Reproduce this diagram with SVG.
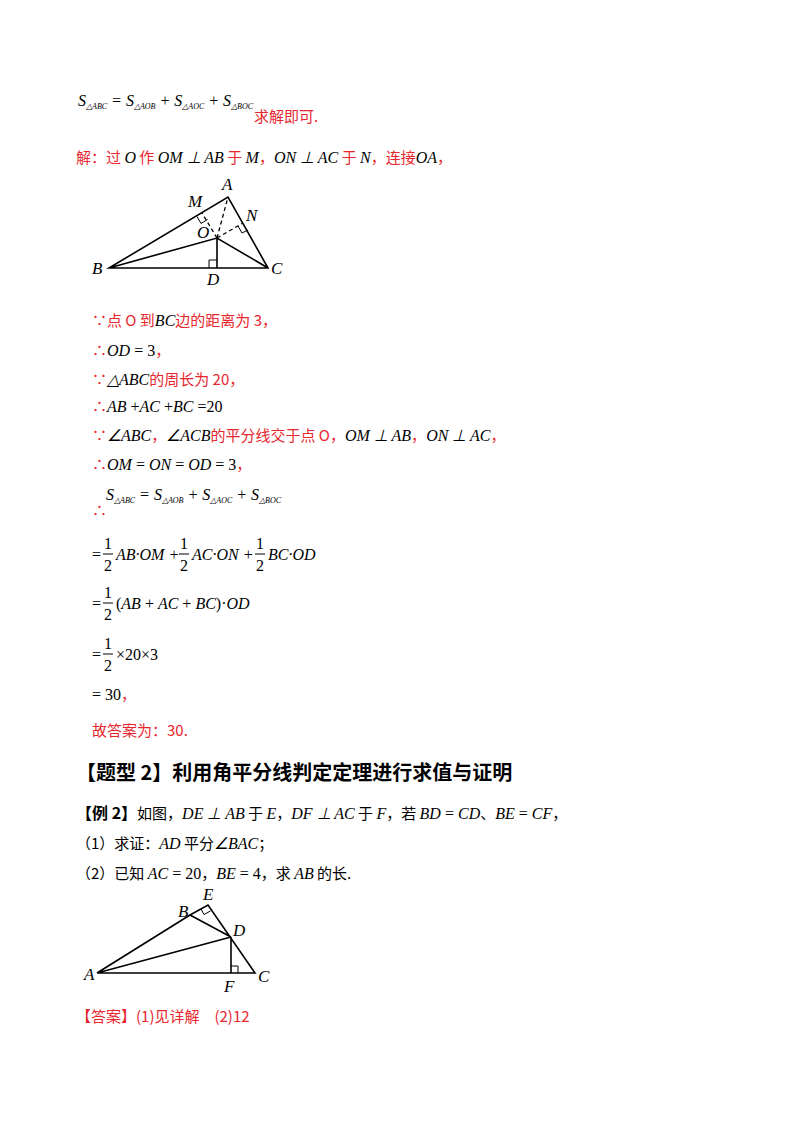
<svg xmlns="http://www.w3.org/2000/svg" width="800" height="1132" viewBox="0 0 800 1132">
<style>
.m{font-family:"Liberation Serif",serif;font-size:16px;font-style:italic;fill:#000}
.n{font-family:"Liberation Serif",serif;font-size:16px;fill:#000}
.s{font-family:"Liberation Serif",serif;font-size:8px;font-style:italic;fill:#000}
.r{font-family:"Noto Sans CJK SC","Noto Sans",sans-serif;font-size:15px;fill:#e8262e}
.k{font-family:"Noto Sans CJK SC",sans-serif;font-size:15px;fill:#000}
.h{font-family:"Noto Sans CJK SC",sans-serif;font-size:20px;font-weight:bold;fill:#000}
.lb{font-family:"Liberation Serif",serif;font-size:17px;font-style:italic;fill:#000}
.ln{stroke:#000;stroke-width:1.6;fill:none}
.th{stroke:#000;stroke-width:1;fill:none}
.ds{stroke:#000;stroke-width:1.3;fill:none;stroke-dasharray:4,3}
</style>
<rect width="800" height="1132" fill="#fff"/>
<g id="text">
<text x="78" y="106" class="m">S<tspan class="s" dy="3">△ABC</tspan><tspan class="n" dy="-3"> = </tspan>S<tspan class="s" dy="3">△AOB</tspan><tspan class="n" dy="-3"> + </tspan>S<tspan class="s" dy="3">△AOC</tspan><tspan class="n" dy="-3"> + </tspan>S<tspan class="s" dy="3">△BOC</tspan></text>
<text x="254" y="122" class="r">求解即可.</text>
<text x="76" y="163" class="r">解：过 <tspan class="m" fill="#e8262e">O</tspan> 作 <tspan class="m" font-size="12">OM ⊥ AB</tspan> 于 <tspan class="m" fill="#e8262e">M</tspan>，<tspan class="m">ON ⊥ AC</tspan> 于 <tspan class="m" fill="#e8262e">N</tspan>，连接<tspan class="m">OA</tspan>，</text>
<text x="92" y="326" class="r">∵点 O 到<tspan class="m">BC</tspan>边的距离为 3，</text>
<text x="92" y="356" class="r">∴<tspan class="m">OD</tspan><tspan class="n"> = 3</tspan>，</text>
<text x="92" y="385" class="r">∵<tspan class="m">△ABC</tspan>的周长为 20，</text>
<text x="92" y="412" class="r">∴<tspan class="m">AB</tspan><tspan class="n"> +</tspan><tspan class="m">AC</tspan><tspan class="n"> +</tspan><tspan class="m">BC</tspan><tspan class="n"> =20</tspan></text>
<text x="92" y="441" class="r">∵<tspan class="m">∠ABC</tspan>，<tspan class="m">∠ACB</tspan>的平分线交于点 O，<tspan class="m" font-size="12">OM ⊥ AB</tspan>，<tspan class="m">ON ⊥ AC</tspan>，</text>
<text x="92" y="470" class="r">∴<tspan class="m">OM</tspan><tspan class="n"> = </tspan><tspan class="m">ON</tspan><tspan class="n"> = </tspan><tspan class="m">OD</tspan><tspan class="n"> = 3</tspan>，</text>
<text x="106" y="500" class="m">S<tspan class="s" dy="3">△ABC</tspan><tspan class="n" dy="-3"> = </tspan>S<tspan class="s" dy="3">△AOB</tspan><tspan class="n" dy="-3"> + </tspan>S<tspan class="s" dy="3">△AOC</tspan><tspan class="n" dy="-3"> + </tspan>S<tspan class="s" dy="3">△BOC</tspan></text>
<text x="92" y="516" class="r">∴</text>
<text x="92" y="560" class="n">=</text><text x="104" y="549" class="n">1</text><text x="104" y="571" class="n">2</text>
<text x="116" y="560" class="m">AB·OM<tspan class="n"> + </tspan></text><text x="180" y="549" class="n">1</text><text x="180" y="571" class="n">2</text>
<text x="192" y="560" class="m">AC·ON<tspan class="n"> + </tspan></text><text x="256" y="549" class="n">1</text><text x="256" y="571" class="n">2</text>
<text x="268" y="560" class="m">BC·OD</text>
<text x="92" y="609" class="n">=</text><text x="104" y="598" class="n">1</text><text x="104" y="620" class="n">2</text>
<text x="116" y="609" class="n">(<tspan class="m">AB</tspan> + <tspan class="m">AC</tspan> + <tspan class="m">BC</tspan>)·<tspan class="m">OD</tspan></text>
<text x="92" y="660" class="n">=</text><text x="104" y="649" class="n">1</text><text x="104" y="671" class="n">2</text>
<text x="116" y="660" class="n">×20×3</text>
<text x="92" y="700" class="n">= 30<tspan class="r">，</tspan></text>
<text x="92" y="736" class="r">故答案为：30.</text>
<text x="76" y="780" class="h">【题型 2】利用角平分线判定定理进行求值与证明</text>
<text x="76" y="819" class="k"><tspan font-weight="bold" font-size="16">【例 2】</tspan>如图，<tspan class="m">DE ⊥ AB</tspan> 于 <tspan class="m">E</tspan>，<tspan class="m">DF ⊥ AC</tspan> 于 <tspan class="m">F</tspan>，若 <tspan class="m">BD</tspan><tspan class="n"> = </tspan><tspan class="m">CD</tspan>、<tspan class="m">BE</tspan><tspan class="n"> = </tspan><tspan class="m">CF</tspan>，</text>
<text x="76" y="849" class="k">（1）求证：<tspan class="m">AD</tspan> 平分<tspan class="m">∠BAC</tspan>；</text>
<text x="76" y="879" class="k">（2）已知 <tspan class="m">AC</tspan><tspan class="n"> = 20</tspan>，<tspan class="m">BE</tspan><tspan class="n"> = 4</tspan>，求 <tspan class="m">AB</tspan> 的长.</text>
<text x="76" y="1022" class="r">【答案】(1)见详解　(2)12</text>
</g>
<g id="fraclines" class="th">
<path d="M103 554H113M179 554H189M255 554H265M103 603H113M103 654H113"/>
</g>
<g id="figure1">
<path class="ln" d="M109 268L228 197L268 268Z M109 268L217 238L268 268 M217 238V268"/>
<path class="ds" d="M217 238L228 197 M217 238L202 213 M217 238L243 223"/>
<path class="th" d="M209 268V260H217 M197 216.5L201 223.5L207.5 219.5 M238 226L242 233L248 230"/>
<text x="222" y="190" class="lb">A</text>
<text x="188" y="207" class="lb">M</text>
<text x="246" y="221" class="lb">N</text>
<text x="197" y="238" class="lb">O</text>
<text x="92" y="274" class="lb">B</text>
<text x="271" y="274" class="lb">C</text>
<text x="207" y="285" class="lb">D</text>
</g>
<g id="figure2">
<path class="ln" d="M97 973L255 973L208 905L190 915 M97 973L190 915 M190 915L231 937 M97 973L231 937 M231 937V973"/>
<path class="th" d="M201 909L204 914.5L210.5 911 M231 966H238V973"/>
<text x="203" y="900" class="lb">E</text>
<text x="178" y="917" class="lb">B</text>
<text x="233" y="936" class="lb">D</text>
<text x="84" y="980" class="lb">A</text>
<text x="258" y="982" class="lb">C</text>
<text x="224" y="992" class="lb">F</text>
</g>
</svg>
